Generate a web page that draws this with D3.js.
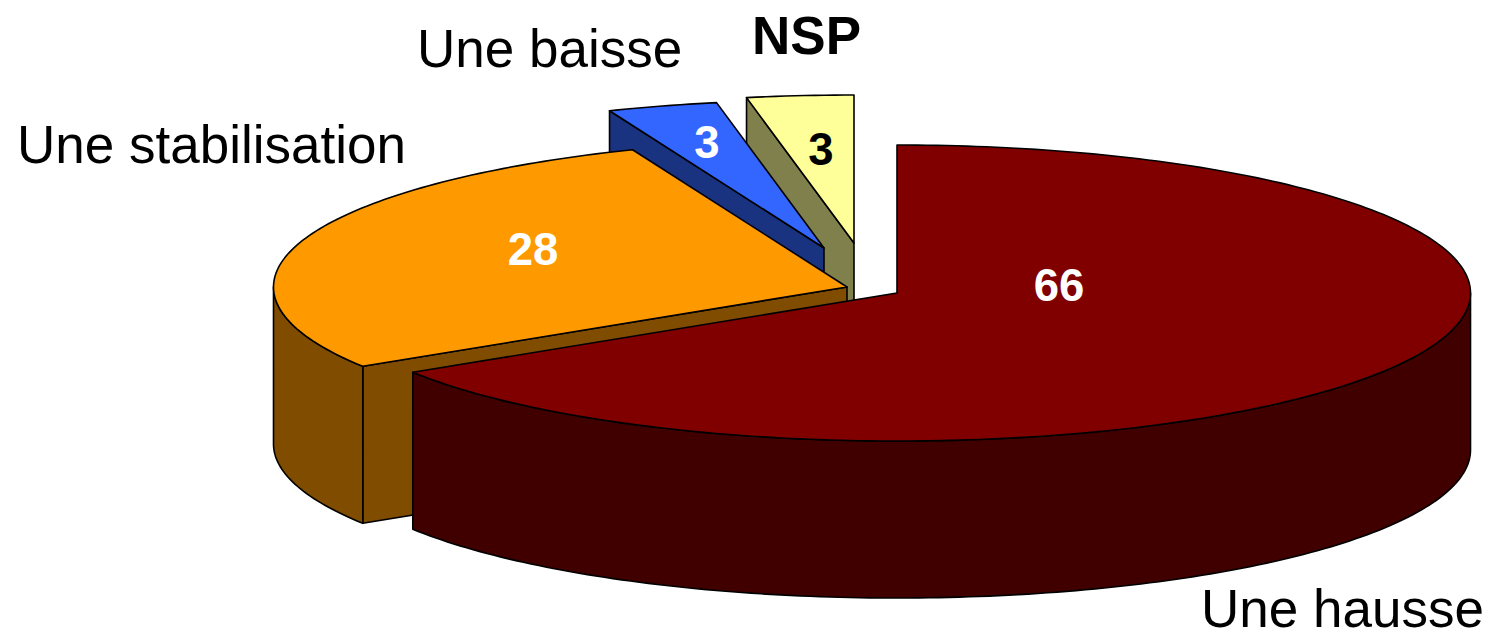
<!DOCTYPE html>
<html>
<head>
<meta charset="utf-8">
<script src="https://cdn.jsdelivr.net/npm/d3@7/dist/d3.min.js"></script>
<style>
html,body{margin:0;padding:0;background:#fff;overflow:hidden}
svg{display:block}
text{font-family:"Liberation Sans",Arial,sans-serif}
</style>
</head>
<body>
<svg id="chart" width="1488" height="630"></svg>
<script>
// Data (slices; the labels show them rounded)
const categories = ["Une hausse", "Une stabilisation", "Une baisse", "NSP"];
const values = [66, 27.9, 3.1, 3];

// Styles and layout, indexed as the categories
const topColors  = ["#800000", "#FF9900", "#3366FF", "#FFFF99"];
const sideColors = ["#400000", "#804C00", "#1A3380", "#80804C"];
const valueColors = ["#fff", "#fff", "#fff", "#000"];
const apex = [[897, 293], [847, 287], [824, 248], [854, 243]];
const nameLayout = [
  {x: 1201, y: 627, weight: 400},
  {x: 17, y: 163, weight: 400},
  {x: 417, y: 67, weight: 400},
  {x: 752, y: 54, weight: 700}
];
const valueLayout = [[1059, 301], [533, 265], [707, 158], [821, 165]];
const RX = 573.5, RY = 148, DEPTH = 157, STEP = Math.PI / 180;

const svg = d3.select("#chart");
const pie = d3.pie().sort(null).value(d => d);
const arcs = pie(values);
const rx = d3.scaleLinear().domain([0, 1]).range([0, RX]);
const ry = d3.scaleLinear().domain([0, 1]).range([0, RY]);
const line = d3.line();
const fmt = d3.format(".0f");

function project(i, r, a, drop = 0) {
  return [apex[i][0] + rx(r) * Math.sin(a), apex[i][1] - ry(r) * Math.cos(a) + drop];
}
function rim(i, a0, a1, drop = 0) {
  const n = Math.max(1, Math.ceil((a1 - a0) / STEP));
  return d3.range(n + 1).map(k => project(i, 1, a0 + (a1 - a0) * k / n, drop));
}
function draw(pts, fill) {
  svg.append("path")
    .attr("d", line(pts) + "Z")
    .attr("fill", fill)
    .attr("stroke", "#000")
    .attr("stroke-width", 1.6)
    .attr("stroke-linejoin", "round");
}

// Painter's order: back slices first
d3.range(arcs.length).reverse().forEach(i => {
  const a0 = arcs[i].startAngle, a1 = arcs[i].endAngle;
  const eps = 1e-6;
  // Cut faces that look towards the viewer
  [[a0, Math.sin(a0) < -eps], [a1, Math.sin(a1) > eps]].forEach(([a, visible]) => {
    if (!visible) return;
    const c = project(i, 0, a), e = project(i, 1, a);
    draw([c, e, [e[0], e[1] + DEPTH], [c[0], c[1] + DEPTH]], sideColors[i]);
  });
  // Outer wall, front half only
  const w0 = Math.max(a0, Math.PI / 2), w1 = Math.min(a1, 3 * Math.PI / 2);
  if (w1 > w0) {
    draw(rim(i, w0, w1).concat(rim(i, w0, w1, DEPTH).reverse()), sideColors[i]);
  }
  // Top
  draw([project(i, 0, a0)].concat(rim(i, a0, a1)), topColors[i]);
});

// Value labels
svg.append("g").selectAll("text").data(values).join("text")
  .attr("x", (d, i) => valueLayout[i][0])
  .attr("y", (d, i) => valueLayout[i][1])
  .attr("text-anchor", "middle")
  .attr("font-size", 45.5)
  .attr("font-weight", 700)
  .attr("fill", (d, i) => valueColors[i])
  .text(d => fmt(d));

// Category labels
svg.append("g").selectAll("text").data(categories).join("text")
  .attr("x", (d, i) => nameLayout[i].x)
  .attr("y", (d, i) => nameLayout[i].y)
  .attr("font-size", 53)
  .attr("font-weight", (d, i) => nameLayout[i].weight)
  .attr("fill", "#000")
  .text(d => d);
</script>
</body>
</html>
